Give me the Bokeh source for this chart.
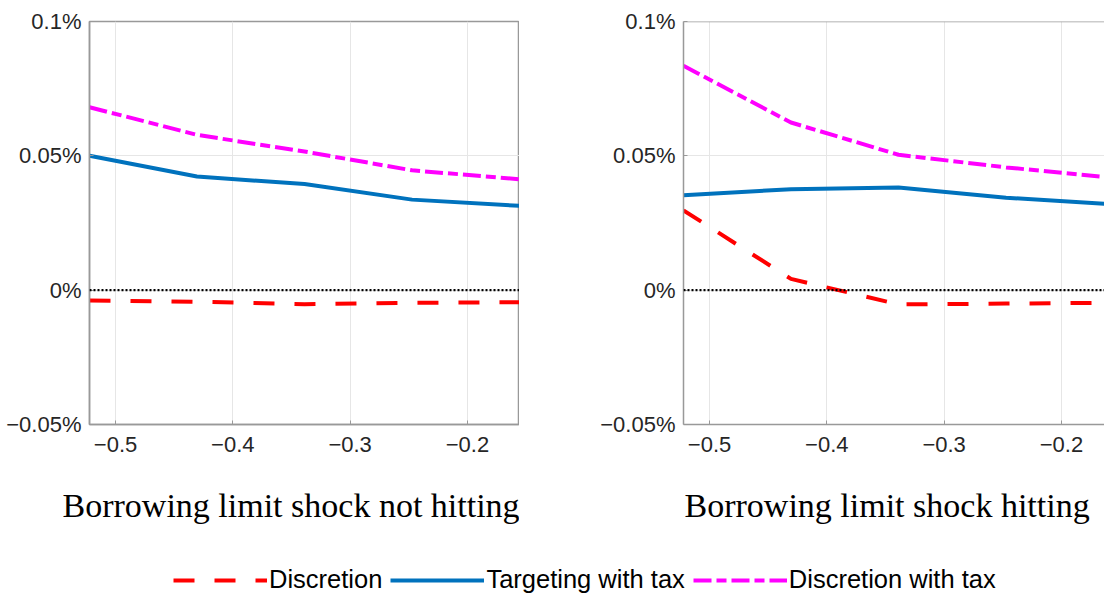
from bokeh.plotting import figure
from bokeh.layouts import column, row
from bokeh.models import (Range1d, FixedTicker, Span, Title, Legend, LegendItem)
from bokeh.embed import file_html
from bokeh.resources import INLINE

# Borrowing limit grid (x axis)
limit = [-0.5222, -0.4306, -0.3389, -0.2472, -0.1556]

# Welfare gains (%), borrowing limit shock not hitting
disc_not = [-0.0038, -0.0043, -0.0052, -0.0047, -0.0045]
targ_not = [0.0500, 0.0423, 0.0395, 0.0337, 0.0314]
disctax_not = [0.0681, 0.0578, 0.0516, 0.0446, 0.0413]

# Welfare gains (%), borrowing limit shock hitting
disc_hit = [0.0297, 0.0042, -0.0053, -0.0050, -0.0047]
targ_hit = [0.0353, 0.0376, 0.0382, 0.0344, 0.0319]
disctax_hit = [0.0835, 0.0624, 0.0504, 0.0457, 0.0418]

x_ticks = [-0.5, -0.4, -0.3, -0.2]
x_tick_labels = ["\u22120.5", "\u22120.4", "\u22120.3", "\u22120.2"]
y_ticks = [-0.05, 0, 0.05, 0.1]
y_tick_labels = ["\u22120.05%", "0%", "0.05%", "0.1%"]

series_names = ["Discretion", "Targeting with tax", "Discretion with tax"]
panel_titles = ["Borrowing limit shock not hitting", "Borrowing limit shock hitting"]

RED = "#FF0000"
BLUE = "#0072BD"
MAGENTA = "#FF00FF"
AXIS = "#999999"
GRID = "#e6e6e6"
TICK_FONT = "Liberation Sans"
TITLE_FONT = "Liberation Serif"

FRAME_TOP = 21
FRAME_H = 403
FIG_H = 560
X0 = -0.5222


def make_panel(disc, targ, disctax, title, title_offset, border_left, frame_w, x_end, full_box):
    p = figure(width=border_left + frame_w, height=FIG_H,
               x_range=Range1d(X0, x_end), y_range=Range1d(-0.05, 0.1),
               output_backend="svg", toolbar_location=None,
               min_border_left=border_left, min_border_right=0,
               min_border_top=FRAME_TOP,
               min_border_bottom=FIG_H - FRAME_TOP - FRAME_H)
    p.background_fill_color = "white"
    p.border_fill_color = "white"
    if full_box:
        p.outline_line_color = AXIS
        p.outline_line_width = 1.5
    else:
        p.outline_line_color = None
        p.add_layout(Span(location=0.1, dimension="width",
                          line_color=AXIS, line_width=1.5))

    p.xaxis.ticker = FixedTicker(ticks=x_ticks)
    p.yaxis.ticker = FixedTicker(ticks=y_ticks)
    p.xaxis.major_label_overrides = dict(zip(x_ticks, x_tick_labels))
    p.yaxis.major_label_overrides = dict(zip(y_ticks, y_tick_labels))
    for ax in (p.xaxis, p.yaxis):
        ax.axis_line_color = AXIS
        ax.axis_line_width = 1.5
        ax.major_tick_line_color = AXIS
        ax.major_tick_in = 4
        ax.major_tick_out = 0
        ax.minor_tick_line_color = None
        ax.major_label_text_font = TICK_FONT
        ax.major_label_text_font_size = "22px"
        ax.major_label_text_color = "#262626"
    p.xaxis.major_label_standoff = 12
    p.yaxis.major_label_standoff = 8

    p.xgrid.ticker = FixedTicker(ticks=x_ticks)
    p.ygrid.ticker = FixedTicker(ticks=y_ticks)
    p.grid.grid_line_color = GRID
    p.grid.grid_line_width = 1

    p.add_layout(Span(location=0, dimension="width", line_color="black",
                      line_width=2.2, line_dash="2 2"))

    p.line(limit, disc, line_color=RED, line_width=4, line_dash="21 20")
    p.line(limit, targ, line_color=BLUE, line_width=4)
    p.line(limit, disctax, line_color=MAGENTA, line_width=4, line_dash="18 5 10 5")

    p.add_layout(Title(text=title, align="left", offset=title_offset, standoff=61,
                       text_font=TITLE_FONT, text_font_size="34px",
                       text_font_style="normal", text_color="black"), "below")
    return p


LEFT_BORDER = 89
LEFT_FRAME_W = 430
RIGHT_FRAME_LEFT = 683
RIGHT_BORDER = RIGHT_FRAME_LEFT - (LEFT_BORDER + LEFT_FRAME_W)
RIGHT_FRAME_W = 1104 - RIGHT_FRAME_LEFT
PX_PER_UNIT = LEFT_FRAME_W / (-0.1556 - X0)

p1 = make_panel(disc_not, targ_not, disctax_not, panel_titles[0], -27,
                LEFT_BORDER, LEFT_FRAME_W, -0.1556, True)
p2 = make_panel(disc_hit, targ_hit, disctax_hit, panel_titles[1], 1,
                RIGHT_BORDER, RIGHT_FRAME_W, X0 + RIGHT_FRAME_W / PX_PER_UNIT, False)

# Shared legend strip under both panels
leg = figure(width=1104, height=595 - FIG_H, x_range=Range1d(0, 1), y_range=Range1d(0, 1),
             output_backend="svg", toolbar_location=None,
             min_border_left=0, min_border_right=0, min_border_top=0, min_border_bottom=0)
leg.axis.visible = False
leg.grid.visible = False
leg.outline_line_color = None
r1 = leg.line([2, 3], [2, 3], line_color=RED, line_width=4, line_dash="21 20")
r2 = leg.line([2, 3], [2, 3], line_color=BLUE, line_width=4)
r3 = leg.line([2, 3], [2, 3], line_color=MAGENTA, line_width=4, line_dash="18 5 10 5")
legend = Legend(items=[LegendItem(label=series_names[0], renderers=[r1]),
                       LegendItem(label=series_names[1], renderers=[r2]),
                       LegendItem(label=series_names[2], renderers=[r3])],
                orientation="horizontal", location=(173, 1),
                glyph_width=94, glyph_height=26, label_height=26,
                label_standoff=2, spacing=8, padding=0, margin=0,
                border_line_color=None, background_fill_alpha=0,
                label_text_font=TICK_FONT, label_text_font_size="25.5px",
                label_text_color="black")
leg.add_layout(legend, "center")

layout = column(row(p1, p2), leg)
open("out.html", "w").write(file_html(layout, INLINE))
